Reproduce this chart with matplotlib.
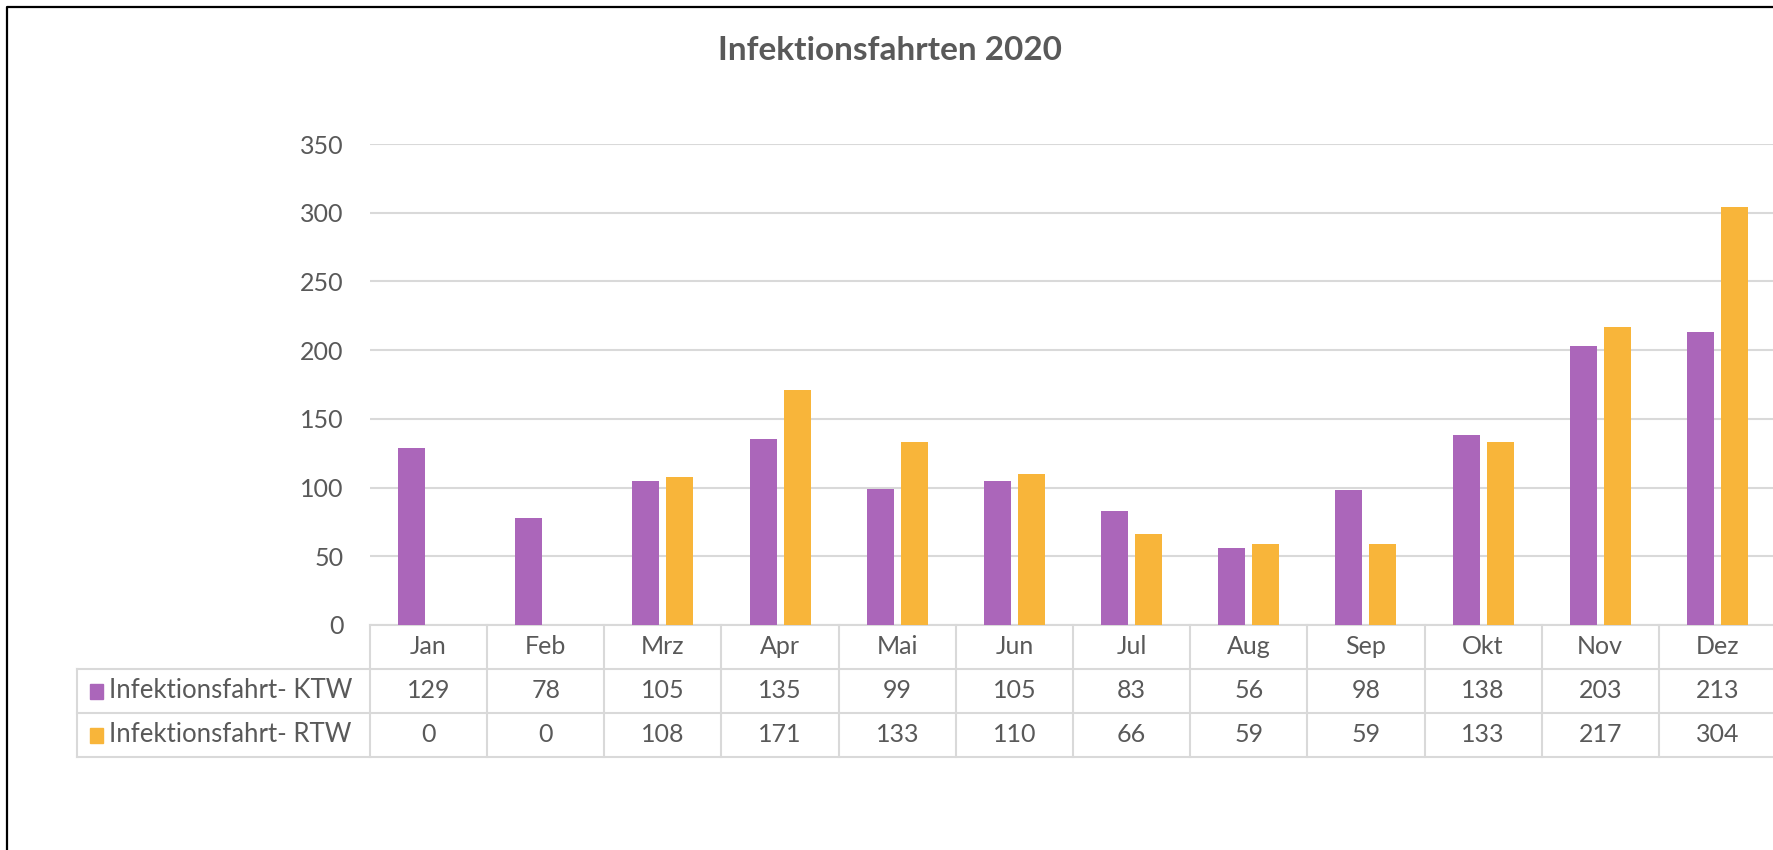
import numpy as np
import matplotlib
matplotlib.use("Agg")
import matplotlib.pyplot as plt
import matplotlib.transforms as mtransforms
from matplotlib.lines import Line2D
from matplotlib.patches import Rectangle

# Daten
monate = ["Jan", "Feb", "Mrz", "Apr", "Mai", "Jun", "Jul", "Aug", "Sep", "Okt", "Nov", "Dez"]
ktw = [129, 78, 105, 135, 99, 105, 83, 56, 98, 138, 203, 213]
rtw = [0, 0, 108, 171, 133, 110, 66, 59, 59, 133, 217, 304]
serien = ["Infektionsfahrt- KTW", "Infektionsfahrt- RTW"]
y_ticks = [0, 50, 100, 150, 200, 250, 300, 350]

lila = '#AB66BA'
orange = '#F8B53A'
grau_text = '#595959'
grau_linie = '#D9D9D9'

plt.rcParams['font.family'] = ['Lato', 'DejaVu Sans']

W, H = 1774, 850
fig = plt.figure(figsize=(W / 100, H / 100), dpi=100)
fig.patch.set_facecolor('white')

def fy(py):
    # Pixel (von oben) -> Figure-Koordinate
    return 1 - py / H

ax = fig.add_axes([370 / W, 225 / H, 1406 / W, 481 / H])
x = np.arange(len(monate))
ax.bar(x - 0.145, ktw, width=0.23, color=lila, zorder=3)
ax.bar(x + 0.145, rtw, width=0.23, color=orange, zorder=3)

ax.set_xlim(-0.5, len(monate) - 0.5)
ax.set_ylim(0, 350)
ax.set_yticks(y_ticks)
ax.set_xticks([])
ax.tick_params(axis='y', length=0, pad=19, labelsize=18, labelcolor=grau_text)
ax.yaxis.grid(True, color=grau_linie, linewidth=1.5, zorder=0)
for s in ax.spines.values():
    s.set_visible(False)

# Datentabelle unter dem Diagramm
tr = mtransforms.blended_transform_factory(ax.transData, fig.transFigure)
zeilen = [625, 669, 713, 757]
lw = 1.5

ax.add_line(Line2D([-0.5, 11.5], [fy(625), fy(625)], transform=tr, color=grau_linie, lw=lw, clip_on=False))
for py in zeilen[1:]:
    ax.add_line(Line2D([-3.0, 11.5], [fy(py), fy(py)], transform=tr, color=grau_linie, lw=lw, clip_on=False))
for k in range(len(monate) + 1):
    ax.add_line(Line2D([k - 0.5, k - 0.5], [fy(625), fy(757)], transform=tr, color=grau_linie, lw=lw, clip_on=False))
ax.add_line(Line2D([-3.0, -3.0], [fy(669), fy(757)], transform=tr, color=grau_linie, lw=lw, clip_on=False))

for i, m in enumerate(monate):
    ax.text(i, fy(647), m, transform=tr, ha='center', va='center', fontsize=18, color=grau_text, clip_on=False)
    ax.text(i, fy(691), str(ktw[i]), transform=tr, ha='center', va='center', fontsize=18, color=grau_text, clip_on=False)
    ax.text(i, fy(735), str(rtw[i]), transform=tr, ha='center', va='center', fontsize=18, color=grau_text, clip_on=False)

for name, farbe, mitte in zip(serien, [lila, orange], [691, 735]):
    ax.add_patch(Rectangle((-2.89, fy(mitte + 8)), 0.115, 15 / H, transform=tr,
                           color=farbe, clip_on=False))
    ax.text(-2.73, fy(mitte), name, transform=tr, ha='left', va='center',
            fontsize=18.5, color=grau_text, clip_on=False)

# Titel
fig.text(890 / W, fy(51), "Infektionsfahrten 2020", ha='center', va='center',
         fontsize=24, fontweight='bold', color=grau_text)

# Rahmen (links und oben)
fig.add_artist(Line2D([7 / W, 7 / W, 1], [0, fy(7), fy(7)], transform=fig.transFigure,
                      color='black', lw=1.6))

plt.savefig("out.png", dpi=100)
